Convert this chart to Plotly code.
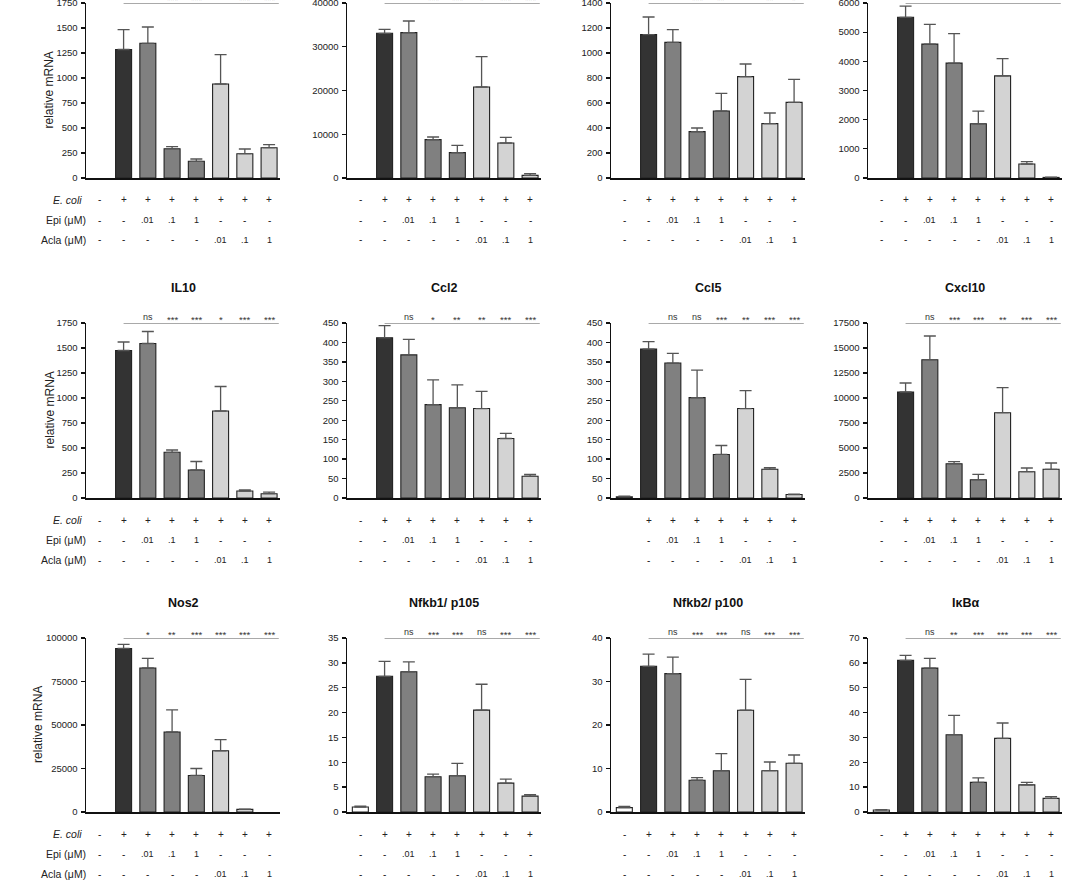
import plotly.graph_objects as go

# ------------------------------------------------------------------ data
x_idx = [0, 1, 2, 3, 4, 5, 6, 7]
ecoli_labels = ["-", "+", "+", "+", "+", "+", "+", "+"]
epi_labels = ["-", "-", ".01", ".1", "1", "-", "-", "-"]
acla_labels = ["-", "-", "-", "-", "-", ".01", ".1", "1"]
row_names = ["E. coli", "Epi (μM)", "Acla (μM)"]

panel_titles = ["", "", "", "", "IL10", "Ccl2", "Ccl5", "Cxcl10",
                "Nos2", "Nfkb1/ p105", "Nfkb2/ p100", "IκBα"]

# bar heights (None = no bar) and upper end of error bar
p1_mean = [None, 1285, 1347, 293, 167, 940, 243, 303]
p1_top = [None, 1483, 1510, 313, 190, 1233, 290, 333]
p2_mean = [None, 33070, 33220, 8760, 5790, 20800, 8000, 610]
p2_top = [None, 33980, 35890, 9370, 7470, 27730, 9300, 990]
p3_mean = [None, 1147, 1085, 371, 536, 811, 435, 605]
p3_top = [None, 1288, 1187, 400, 677, 912, 520, 789]
p4_mean = [None, 5510, 4590, 3940, 1860, 3500, 480, 20]
p4_top = [None, 5890, 5270, 4950, 2290, 4090, 560, 25]
il10_mean = [None, 1475, 1545, 457, 280, 870, 70, 43]
il10_top = [None, 1560, 1665, 480, 365, 1115, 80, 58]
ccl2_mean = [None, 412, 368, 240, 232, 230, 153, 56]
ccl2_top = [None, 443, 408, 304, 291, 274, 166, 61]
ccl5_mean = [3, 383, 347, 258, 112, 230, 74, 9]
ccl5_top = [5, 402, 372, 329, 135, 276, 78, 10]
cxcl10_mean = [None, 10600, 13830, 3430, 1830, 8530, 2630, 2870]
cxcl10_top = [None, 11500, 16200, 3630, 2370, 11030, 3000, 3500]
nos2_mean = [None, 94000, 82800, 46000, 21000, 35200, 1500, None]
nos2_top = [None, 96300, 88300, 58700, 25000, 41600, 1700, None]
nfkb1_mean = [1.0, 27.3, 28.2, 7.1, 7.3, 20.5, 5.8, 3.2]
nfkb1_top = [1.2, 30.3, 30.2, 7.6, 9.8, 25.7, 6.6, 3.5]
nfkb2_mean = [1.0, 33.5, 31.8, 7.3, 9.5, 23.4, 9.5, 11.2]
nfkb2_top = [1.3, 36.3, 35.6, 7.9, 13.4, 30.5, 11.5, 13.1]
ikba_mean = [0.8, 61.0, 57.9, 31.1, 11.9, 29.6, 10.9, 5.5]
ikba_top = [0.9, 63.0, 61.8, 38.9, 13.7, 35.8, 11.9, 6.2]

# significance vs. E. coli alone, for bars 2..7
sig_p1 = ["ns", "***", "***", "ns", "***", "***"]
sig_p2 = ["ns", "***", "***", "*", "***", "***"]
sig_p3 = ["ns", "***", "**", "ns", "**", "*"]
sig_p4 = ["", "", "", "", "", ""]
sig_il10 = ["ns", "***", "***", "*", "***", "***"]
sig_ccl2 = ["ns", "*", "**", "**", "***", "***"]
sig_ccl5 = ["ns", "ns", "***", "**", "***", "***"]
sig_cxcl10 = ["ns", "***", "***", "**", "***", "***"]
sig_nos2 = ["*", "**", "***", "***", "***", "***"]
sig_nfkb1 = ["ns", "***", "***", "ns", "***", "***"]
sig_nfkb2 = ["ns", "***", "***", "ns", "***", "***"]
sig_ikba = ["ns", "**", "***", "***", "***", "***"]

# y axis: max and tick step
p1_axis = (1750, 250)
p2_axis = (40000, 10000)
p3_axis = (1400, 200)
p4_axis = (6000, 1000)
il10_axis = (1750, 250)
ccl2_axis = (450, 50)
ccl5_axis = (450, 50)
cxcl10_axis = (17500, 2500)
nos2_axis = (100000, 25000)
nfkb1_axis = (35, 5)
nfkb2_axis = (40, 10)
ikba_axis = (70, 10)

means = [p1_mean, p2_mean, p3_mean, p4_mean, il10_mean, ccl2_mean, ccl5_mean,
         cxcl10_mean, nos2_mean, nfkb1_mean, nfkb2_mean, ikba_mean]
tops = [p1_top, p2_top, p3_top, p4_top, il10_top, ccl2_top, ccl5_top,
        cxcl10_top, nos2_top, nfkb1_top, nfkb2_top, ikba_top]
sigs = [sig_p1, sig_p2, sig_p3, sig_p4, sig_il10, sig_ccl2, sig_ccl5,
        sig_cxcl10, sig_nos2, sig_nfkb1, sig_nfkb2, sig_ikba]
axes_spec = [p1_axis, p2_axis, p3_axis, p4_axis, il10_axis, ccl2_axis, ccl5_axis,
             cxcl10_axis, nos2_axis, nfkb1_axis, nfkb2_axis, ikba_axis]
hide_first_table_col = [False] * 12
hide_first_table_col[6] = True  # Ccl5

# ------------------------------------------------------------------ style
W, H = 1065, 884
FONT = "Liberation Sans, Arial, Helvetica, sans-serif"
bar_colors = ["#ffffff", "#333333", "#808080", "#808080", "#808080",
              "#d3d3d3", "#d3d3d3", "#d3d3d3"]
col_left = [86, 347, 611, 868]
plot_w = 194
row_top = [3, 323, 638]
row_bot = [178, 498, 812]
ytitle_x = [49, 49, 38]
XR = [-0.55, 7.45]
table_offsets = [22, 42, 62]

fig = go.Figure()
annotations = []
shapes = []
layout_axes = {}

for k in range(12):
    r, c = divmod(k, 4)
    n = k + 1
    xa = "x" if n == 1 else f"x{n}"
    ya = "y" if n == 1 else f"y{n}"
    xkey = "xaxis" if n == 1 else f"xaxis{n}"
    ykey = "yaxis" if n == 1 else f"yaxis{n}"

    ymax, ystep = axes_spec[k]
    x0p = col_left[c] / W
    x1p = (col_left[c] + plot_w) / W
    y0p = 1 - row_bot[r] / H
    y1p = 1 - row_top[r] / H

    tv = list(range(0, ymax + 1, ystep))
    layout_axes[xkey] = dict(domain=[x0p, x1p], anchor=ya, range=XR,
                             showline=True, linecolor="#111", linewidth=1.5,
                             showticklabels=False, ticks="", showgrid=False,
                             zeroline=False, fixedrange=True, automargin=False)
    layout_axes[ykey] = dict(domain=[y0p, y1p], anchor=xa, range=[0, ymax],
                             tickvals=tv, ticktext=[str(v) for v in tv],
                             showline=True, linecolor="#111", linewidth=1.5,
                             ticks="outside", ticklen=4, tickwidth=1.3,
                             tickcolor="#111", showgrid=False, zeroline=False,
                             tickfont=dict(size=9.5, color="#222", family=FONT),
                             ticklabelstandoff=1, ticklabeloverflow="allow",
                             fixedrange=True, automargin=False)

    m = means[k]
    t = tops[k]
    errs = [(tv_ - mv) if (mv is not None and tv_ is not None) else None
            for mv, tv_ in zip(m, t)]
    fig.add_trace(go.Bar(
        x=x_idx, y=m, width=0.66, xaxis=xa, yaxis=ya,
        marker=dict(color=bar_colors, line=dict(color="#222", width=1.1)),
        error_y=dict(type="data", array=errs, arrayminus=[0] * 8,
                     symmetric=False, color="#555", thickness=1.3, width=6),
        showlegend=False, hoverinfo="skip"))

    # significance line + labels
    shapes.append(dict(type="line", xref=xa, yref=ya, x0=1, x1=7.4,
                       y0=ymax, y1=ymax, line=dict(color="#555", width=1)))
    for j, s in enumerate(sigs[k]):
        if not s:
            continue
        star = s.startswith("*")
        annotations.append(dict(xref=xa, yref=ya, x=j + 2, y=ymax,
                                text=s, showarrow=False, yanchor="bottom",
                                yshift=-4 if star else -1,
                                font=dict(size=9.5 if star else 9, color="#333", family=FONT)))

    # title
    if panel_titles[k]:
        annotations.append(dict(xref="paper", yref="paper",
                                x=(x0p + x1p) / 2, y=1 - (row_top[r] - 35) / H,
                                text=f"<b>{panel_titles[k]}</b>", showarrow=False,
                                xanchor="center", yanchor="middle",
                                font=dict(size=12.5, color="#111", family=FONT)))

    # treatment table under each panel
    for rowlabels, off in zip([ecoli_labels, epi_labels, acla_labels], table_offsets):
        ypos = 1 - (row_bot[r] + off) / H
        for j, lab in enumerate(rowlabels):
            if j == 0 and hide_first_table_col[k]:
                continue
            annotations.append(dict(xref=xa, yref="paper", x=j, y=ypos, text=lab,
                                    showarrow=False, xanchor="center", yanchor="middle",
                                    font=dict(size=10 if lab in "+-" else 9,
                                              color="#222", family=FONT)))

    if c == 0:
        # row labels of the table
        for name, off in zip(row_names, table_offsets):
            ypos = 1 - (row_bot[r] + off) / H
            txt = f"<i>{name}</i>" if name.startswith("E.") else name
            annotations.append(dict(xref="paper", yref="paper",
                                    x=(84 if name.startswith("E.") else 88) / W, y=ypos,
                                    text=txt, showarrow=False, xanchor="right",
                                    yanchor="middle",
                                    font=dict(size=10.5, color="#222", family=FONT)))
        # y axis title
        annotations.append(dict(xref="paper", yref="paper", x=ytitle_x[r] / W,
                                y=1 - (row_top[r] + row_bot[r]) / 2 / H,
                                text="relative mRNA", textangle=-90, showarrow=False,
                                xanchor="center", yanchor="middle",
                                font=dict(size=12, color="#222", family=FONT)))

fig.update_layout(
    width=W, height=H, margin=dict(l=0, r=0, t=0, b=0, autoexpand=False),
    paper_bgcolor="white", plot_bgcolor="white",
    bargap=0, annotations=annotations, shapes=shapes,
    font=dict(family=FONT), **layout_axes)

fig.write_html("out.html",
               config={"displayModeBar": False, "staticPlot": True},
               post_script="document.body.style.margin='0px';"
                           "document.body.style.overflow='hidden';")
